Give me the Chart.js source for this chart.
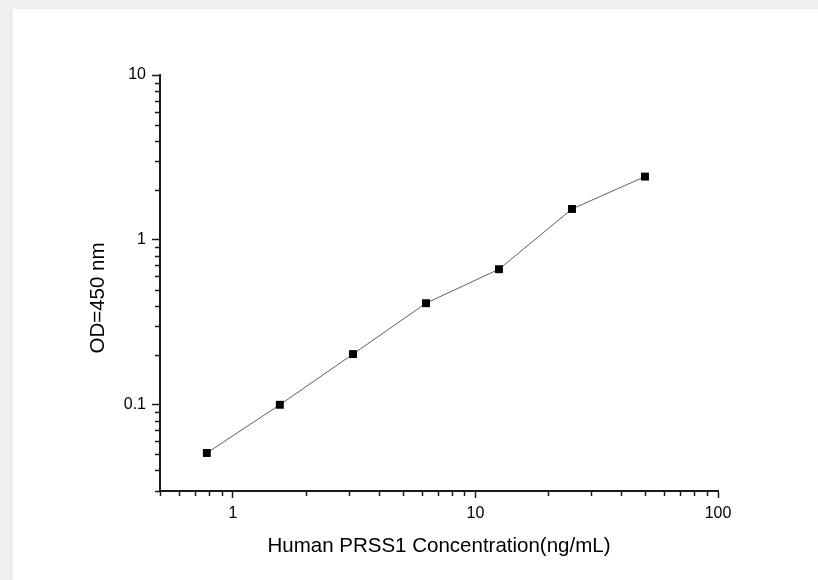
<!DOCTYPE html>
<html>
<head>
<meta charset="utf-8">
<script src="https://cdn.jsdelivr.net/npm/chart.js@4.4.1/dist/chart.umd.min.js"></script>
<style>
  html, body { margin: 0; padding: 0; background: #efefef; }
  #panel { position: absolute; left: 13px; top: 9px; width: 805px; height: 571px; background: #fff; }
  canvas { display: block; }
</style>
</head>
<body>
<div id="panel"><canvas id="curve" width="805" height="571"></canvas></div>
<script>
// standard curve points
const concentrations = [0.78, 1.56, 3.125, 6.25, 12.5, 25, 50];
const odValues = [0.051, 0.100, 0.203, 0.413, 0.664, 1.54, 2.42];

// tick marks (labels only on the decades)
const xTicks = [0.5, 0.6, 0.7, 0.8, 0.9, 1, 2, 3, 4, 5, 6, 7, 8, 9, 10, 20, 30, 40, 50, 60, 70, 80, 90, 100];
const xMajor = [1, 10, 100];
const yTicks = [0.03, 0.04, 0.05, 0.06, 0.07, 0.08, 0.09, 0.1, 0.2, 0.3, 0.4, 0.5, 0.6, 0.7, 0.8, 0.9, 1, 2, 3, 4, 5, 6, 7, 8, 9, 10];
const yMajor = [0.1, 1, 10];

const xTitle = "Human PRSS1 Concentration(ng/mL)";
const yTitle = "OD=450 nm";

const axisColor = "#1a1a1a";
Chart.defaults.font.family = '"Liberation Sans", Arial, sans-serif';
Chart.defaults.color = "#000";

// short minor ticks + the y title (sits a bit below the axis centre in the original)
const extras = {
  id: "extras",
  afterDraw(chart) {
    const ctx = chart.ctx;
    const xs = chart.scales.x, ys = chart.scales.y;
    ctx.save();
    ctx.strokeStyle = axisColor;
    ctx.lineWidth = 1.5;
    ctx.beginPath();
    xTicks.filter(v => !xMajor.includes(v)).forEach(v => {
      const px = Math.round(xs.getPixelForValue(v)) + 0.5;
      ctx.moveTo(px, xs.top);
      ctx.lineTo(px, xs.top + 5);
    });
    yTicks.filter(v => !yMajor.includes(v)).forEach(v => {
      const py = Math.round(ys.getPixelForValue(v)) + 0.5;
      ctx.moveTo(ys.right, py);
      ctx.lineTo(ys.right - 5, py);
    });
    ctx.stroke();

    ctx.translate(85.5, 289);
    ctx.rotate(-Math.PI / 2);
    ctx.font = '20.5px "Liberation Sans", Arial, sans-serif';
    ctx.fillStyle = "#000";
    ctx.textAlign = "center";
    ctx.textBaseline = "middle";
    ctx.fillText(yTitle, 0, 0);
    ctx.restore();
  }
};

new Chart(document.getElementById("curve"), {
  type: "line",
  data: {
    datasets: [{
      data: concentrations.map((c, i) => ({ x: c, y: odValues[i] })),
      borderColor: "#5f5f5f",
      borderWidth: 1,
      pointStyle: "rect",
      pointRadius: 5.6,
      pointBackgroundColor: "#000",
      pointBorderWidth: 0,
      tension: 0
    }]
  },
  options: {
    responsive: false,
    animation: false,
    devicePixelRatio: 1,
    layout: { padding: { left: 0, top: 66, right: 100, bottom: 0 } },
    plugins: { legend: { display: false }, tooltip: { enabled: false } },
    scales: {
      x: {
        type: "logarithmic",
        min: 0.5,
        max: 100,
        afterBuildTicks: s => { s.ticks = xTicks.map(v => ({ value: v })); },
        afterFit: s => { s.height = 89; },
        border: { display: true, color: axisColor, width: 2 },
        grid: {
          drawOnChartArea: false,
          drawTicks: true,
          tickLength: 7,
          tickWidth: 1.5,
          tickColor: c => (c.tick && xMajor.includes(c.tick.value)) ? axisColor : "rgba(0,0,0,0)"
        },
        ticks: {
          autoSkip: false,
          maxRotation: 0,
          padding: 6,
          font: { size: 16 },
          callback: v => xMajor.includes(v) ? String(v) : ""
        },
        title: {
          display: true,
          text: xTitle,
          font: { size: 20.5 },
          padding: { top: 0, bottom: 21 }
        }
      },
      y: {
        type: "logarithmic",
        min: 0.03,
        max: 10,
        afterBuildTicks: s => { s.ticks = yTicks.map(v => ({ value: v })); },
        afterFit: s => { s.width = 147; },
        border: { display: true, color: axisColor, width: 2 },
        grid: {
          drawOnChartArea: false,
          drawTicks: true,
          tickLength: 8,
          tickWidth: 1.5,
          tickColor: c => (c.tick && yMajor.includes(c.tick.value)) ? axisColor : "rgba(0,0,0,0)"
        },
        ticks: {
          autoSkip: false,
          padding: 6,
          font: { size: 16 },
          callback: v => yMajor.includes(v) ? String(v) : ""
        }
      }
    }
  },
  plugins: [extras]
});
</script>
</body>
</html>
